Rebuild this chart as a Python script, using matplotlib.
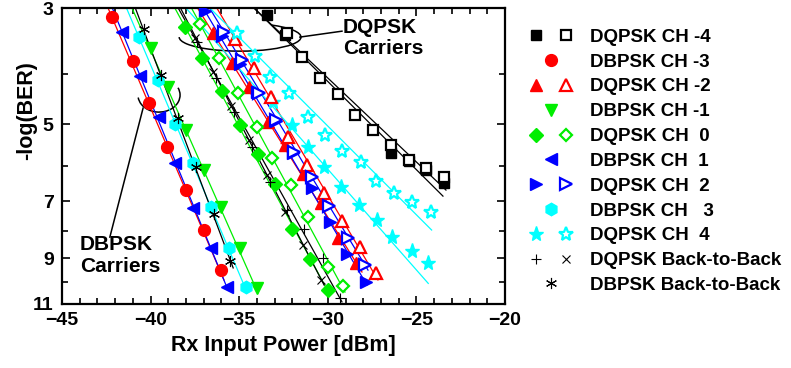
import matplotlib
matplotlib.use("Agg")
import matplotlib.pyplot as plt
from matplotlib.legend_handler import HandlerTuple
from matplotlib.patches import Arc
from matplotlib.ticker import MultipleLocator, NullFormatter, FixedLocator

plt.rcParams['font.family'] = ['Liberation Sans', 'DejaVu Sans']
plt.rcParams['font.weight'] = 'bold'

RED, GREEN, BLUE, CYAN = '#ff0000', '#00ee00', '#0000ff', '#00ffff'

# ---- DBPSK carriers: Rx power [dBm] vs -log(BER)
dbpsk_m3_x = [-42.2, -41.0, -40.1, -39.1, -38.0, -37.0, -36.0]
dbpsk_m3_y = [3.12, 3.79, 4.55, 5.52, 6.67, 7.95, 9.48]
dbpsk_m1_x = [-40.0, -39.0, -38.0, -37.0, -36.0, -34.95, -34.0]
dbpsk_m1_y = [3.58, 4.25, 5.12, 6.11, 7.18, 8.6, 10.25]
dbpsk_p1_x = [-41.6, -40.6, -39.55, -38.6, -37.6, -36.6, -35.7]
dbpsk_p1_y = [3.33, 4.04, 4.85, 5.92, 7.22, 8.6, 10.2]
dbpsk_p3_x = [-40.65, -39.6, -38.6, -37.6, -36.6, -35.6, -34.6]
dbpsk_p3_y = [3.41, 4.12, 4.98, 5.93, 7.19, 8.59, 10.2]
dbpsk_b2b_x = [-40.4, -39.4, -38.45, -37.45, -36.45, -35.5]
dbpsk_b2b_y = [3.29, 4.03, 4.87, 6.02, 7.4, 9.11]

# ---- DQPSK carriers (filled / open = two tributaries)
dqpsk_m4f_x = [-33.45, -32.42, -26.43, -25.42, -24.46, -23.44]
dqpsk_m4f_y = [3.09, 3.38, 5.68, 5.87, 6.11, 6.47]
dqpsk_m4o_x = [-32.3, -31.46, -30.44, -29.42, -28.44, -27.43, -26.42, -25.42, -24.46, -23.44]
dqpsk_m4o_y = [3.35, 3.72, 4.08, 4.38, 4.8, 5.13, 5.47, 5.85, 6.06, 6.29]
dqpsk_m2f_x = [-36.46, -35.42, -34.45, -33.4, -32.39, -31.38, -30.38, -29.42, -28.41]
dqpsk_m2f_y = [3.35, 3.82, 4.25, 4.94, 5.47, 6.22, 7.07, 8.22, 9.19]
dqpsk_m2o_x = [-35.24, -34.14, -33.18, -32.23, -31.19, -30.21, -29.22, -28.18, -27.28]
dqpsk_m2o_y = [3.43, 3.91, 4.44, 5.28, 5.98, 6.77, 7.64, 8.58, 9.6]
dqpsk_0f_x = [-38.06, -37.1, -35.97, -34.95, -33.92, -32.98, -32.04, -30.98, -29.96]
dqpsk_0f_y = [3.26, 3.74, 4.31, 5.01, 5.69, 6.5, 7.93, 9.03, 10.35]
dqpsk_0o_x = [-37.21, -36.14, -35.05, -34.01, -33.13, -32.08, -31.1, -30.01, -29.13]
dqpsk_0o_y = [3.21, 3.74, 4.36, 5.05, 5.8, 6.53, 7.5, 9.34, 10.17]
dqpsk_p2f_x = [-36.93, -35.97, -34.98, -33.97, -32.92, -31.95, -30.91, -29.9, -28.92, -27.87]
dqpsk_p2f_y = [3.04, 3.39, 3.84, 4.34, 4.93, 5.67, 6.6, 7.69, 8.83, 9.98]
dqpsk_p2o_x = [-35.86, -34.86, -33.88, -32.92, -31.91, -30.91, -29.93, -28.84, -27.9]
dqpsk_p2o_y = [3.33, 3.76, 4.36, 4.91, 5.64, 6.29, 7.16, 8.23, 9.25]
dqpsk_p4f_x = [-33.09, -32.04, -31.1, -30.21, -29.28, -28.25, -27.22, -26.35, -25.25, -24.33]
dqpsk_p4f_y = [4.53, 5.01, 5.52, 6.03, 6.57, 7.12, 7.61, 8.21, 8.72, 9.2]
dqpsk_p4o_x = [-35.14, -34.11, -33.26, -32.19, -31.12, -30.16, -29.17, -28.13, -27.26, -26.25, -25.25, -24.16]
dqpsk_p4o_y = [3.35, 3.71, 4.06, 4.36, 4.83, 5.24, 5.61, 5.91, 6.42, 6.77, 7.04, 7.34]
dqpsk_b2b_plus_x = [-37.38, -36.33, -35.28, -34.29, -33.26, -32.32, -31.33, -30.25, -29.31]
dqpsk_b2b_plus_y = [3.48, 4.08, 4.73, 5.52, 6.43, 7.28, 7.93, 9.0, 10.72]
dqpsk_b2b_cross_x = [-37.49, -36.48, -35.46, -34.45, -33.43, -32.42, -31.38, -30.38]
dqpsk_b2b_cross_y = [3.42, 3.97, 4.61, 5.36, 6.24, 7.35, 8.49, 9.9]

# ---- straight fitted lines (start, end)
fit_lines = {
    'dbpsk_m3': ([-42.40, -35.86], [3.0, 9.9], RED),
    'dbpsk_p1': ([-42.16, -35.63], [3.0, 10.35], BLUE),
    'dbpsk_p3': ([-41.36, -34.56], [3.0, 10.44], CYAN),
    'dbpsk_m1': ([-41.05, -33.94], [3.0, 10.48], GREEN),
    'dbpsk_b2b': ([-40.86, -35.34], [3.0, 9.39], 'black'),
    'dqpsk_0f': ([-38.63, -29.88], [3.0, 10.57], GREEN),
    'dqpsk_0o': ([-37.69, -29.03], [3.0, 10.44], GREEN),
    'dqpsk_b2b_plus': ([-38.44, -29.2], [3.0, 10.9], 'black'),
    'dqpsk_b2b_cross': ([-38.31, -30.21], [3.0, 10.12], 'black'),
    'dqpsk_m2f': ([-37.35, -28.07], [3.0, 9.56], RED),
    'dqpsk_m2o': ([-36.26, -27.17], [3.0, 9.9], RED),
    'dqpsk_p2f': ([-37.03, -27.79], [3.0, 10.12], BLUE),
    'dqpsk_p2o': ([-36.67, -27.73], [3.0, 9.48], BLUE),
    'dqpsk_p4o': ([-36.65, -24.14], [3.0, 7.95], CYAN),
    'dqpsk_p4f': ([-38.0, -24.33], [3.0, 10.05], CYAN),
    'dqpsk_m4o': ([-34.16, -23.33], [3.0, 6.67], 'black'),
    'dqpsk_m4f': ([-34.16, -23.50], [3.0, 6.85], 'black'),
}

fig = plt.figure(figsize=(7.91, 3.68), dpi=100)
ax = fig.add_axes([0.0784, 0.174, 0.560, 0.804])
ax.set_yscale('log')

for lx, ly, c in fit_lines.values():
    ax.plot(lx, ly, color=c, lw=0.9, zorder=2)


def filled(x, y, m, c, ms):
    return ax.plot(x, y, ls='none', marker=m, ms=ms, mfc=c, mec=c, mew=1.0, zorder=3)[0]


def hollow(x, y, m, c, ms):
    return ax.plot(x, y, ls='none', marker=m, ms=ms, mfc='white', mec=c, mew=1.6, zorder=4)[0]


sq_f = filled(dqpsk_m4f_x, dqpsk_m4f_y, 's', 'black', 7.5)
sq_o = hollow(dqpsk_m4o_x, dqpsk_m4o_y, 's', 'black', 7.0)
c_m3 = filled(dbpsk_m3_x, dbpsk_m3_y, 'o', RED, 8.5)
t_f = filled(dqpsk_m2f_x, dqpsk_m2f_y, '^', RED, 9)
t_o = hollow(dqpsk_m2o_x, dqpsk_m2o_y, '^', RED, 8)
v_m1 = filled(dbpsk_m1_x, dbpsk_m1_y, 'v', GREEN, 9)
d_f = filled(dqpsk_0f_x, dqpsk_0f_y, 'D', GREEN, 6.8)
d_o = hollow(dqpsk_0o_x, dqpsk_0o_y, 'D', GREEN, 6.3)
l_p1 = filled(dbpsk_p1_x, dbpsk_p1_y, '<', BLUE, 9)
r_f = filled(dqpsk_p2f_x, dqpsk_p2f_y, '>', BLUE, 9)
r_o = hollow(dqpsk_p2o_x, dqpsk_p2o_y, '>', BLUE, 8)
h_p3 = filled(dbpsk_p3_x, dbpsk_p3_y, 'h', CYAN, 9)
s_f = filled(dqpsk_p4f_x, dqpsk_p4f_y, '*', CYAN, 11)
s_o = hollow(dqpsk_p4o_x, dqpsk_p4o_y, '*', CYAN, 10)
b_plus = ax.plot(dqpsk_b2b_plus_x, dqpsk_b2b_plus_y, ls='none', marker='+', ms=7,
                 mec='black', mew=0.8, zorder=5)[0]
b_cross = ax.plot(dqpsk_b2b_cross_x, dqpsk_b2b_cross_y, ls='none', marker='x', ms=6,
                  mec='black', mew=0.8, zorder=5)[0]
b_ast = ax.plot(dbpsk_b2b_x, dbpsk_b2b_y, ls='none', marker=(6, 2, 0), ms=8,
                mec='black', mew=0.8, zorder=5)[0]

# axes
ax.set_xlim(-45, -20)
ax.set_ylim(11, 3)
ax.xaxis.set_major_locator(MultipleLocator(5))
ax.xaxis.set_minor_locator(MultipleLocator(1))
ax.yaxis.set_major_locator(FixedLocator([3, 5, 7, 9, 11]))
ax.yaxis.set_minor_locator(FixedLocator([4, 6, 8, 10]))
ax.yaxis.set_major_formatter(matplotlib.ticker.FixedFormatter(['3', '5', '7', '9', '11']))
ax.yaxis.set_minor_formatter(NullFormatter())
ax.tick_params(which='both', direction='in', top=True, right=True, width=1.2)
ax.tick_params(which='major', length=6, labelsize=14, pad=6)
ax.tick_params(which='minor', length=4)
for sp in ax.spines.values():
    sp.set_linewidth(1.6)

ax.set_xlabel('Rx Input Power [dBm]', fontsize=15.5, fontweight='bold', labelpad=4)
ax.set_ylabel('-log(BER)', fontsize=15.5, fontweight='bold')
ax.yaxis.set_label_coords(-0.057, 0.655)

# annotations
ax.add_patch(Arc((0.219, 0.706), 0.095, 0.115, theta1=190, theta2=390,
                 transform=ax.transAxes, color='black', lw=1.1))
ax.plot([0.183, 0.108], [0.662, 0.226], transform=ax.transAxes, color='black', lw=1.1)
ax.text(0.0406, 0.232, 'DBPSK\nCarriers', transform=ax.transAxes, ha='left', va='top',
        fontsize=15, linespacing=1.15)
ax.add_patch(Arc((0.402, 0.902), 0.275, 0.095, theta1=180, theta2=390,
                 transform=ax.transAxes, color='black', lw=1.1))
ax.plot([0.537, 0.632], [0.902, 0.922], transform=ax.transAxes, color='black', lw=1.1)
ax.text(0.634, 0.968, 'DQPSK\nCarriers', transform=ax.transAxes, ha='left', va='top',
        fontsize=15, linespacing=1.15)

handles = [(sq_f, sq_o), c_m3, (t_f, t_o), v_m1, (d_f, d_o), l_p1, (r_f, r_o), h_p3,
           (s_f, s_o), (b_plus, b_cross), b_ast]
labels = ['DQPSK CH -4', 'DBPSK CH -3', 'DQPSK CH -2', 'DBPSK CH -1', 'DQPSK CH  0',
          'DBPSK CH  1', 'DQPSK CH  2', 'DBPSK CH   3', 'DQPSK CH  4',
          'DQPSK Back-to-Back', 'DBPSK Back-to-Back']
fig.legend(handles, labels, loc='upper left', bbox_to_anchor=(0.665, 0.922),
           frameon=False, fontsize=13.5, numpoints=1, handlelength=2.67,
           handletextpad=0.75, labelspacing=0.41, borderpad=0, borderaxespad=0,
           handler_map={tuple: HandlerTuple(ndivide=None, pad=0.53)})

fig.savefig('out.png', dpi=100)
